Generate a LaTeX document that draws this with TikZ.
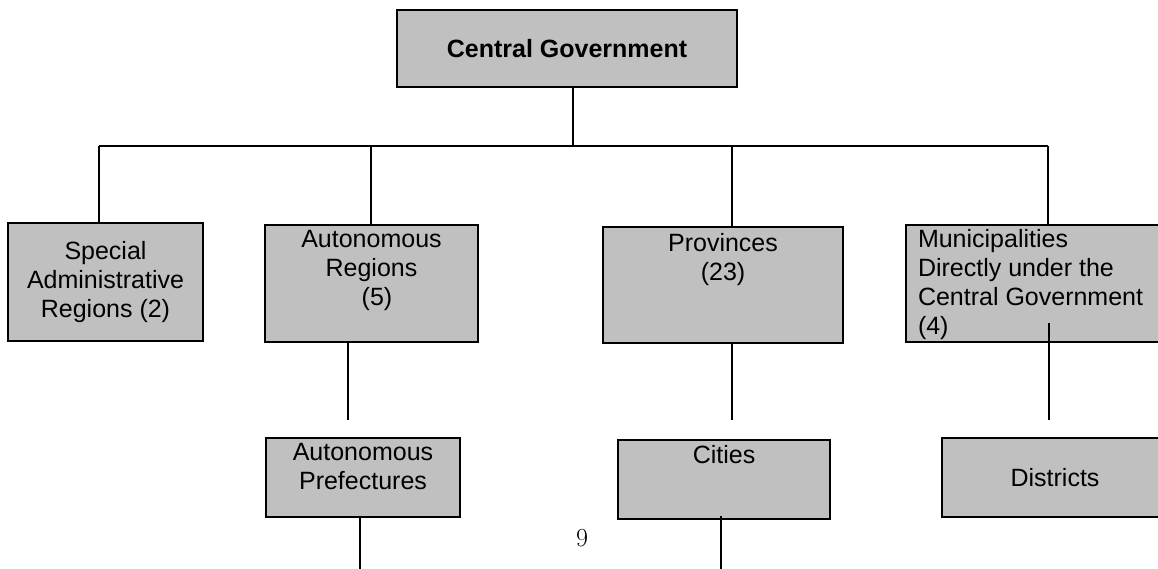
\documentclass[tikz,border=0pt]{standalone}
\usepackage{fontspec}
\setsansfont{Liberation Sans}
\usepackage{tikz}
\usetikzlibrary{positioning, calc}
\definecolor{boxgray}{RGB}{192,192,192}

\begin{document}
\begin{tikzpicture}[
    x=1pt, y=-1pt,
    block/.style={rectangle, draw, line width=2.4pt, fill=boxgray, inner sep=0pt, align=center, font=\sffamily\fontsize{25}{29}\selectfont},
    txt/.style={inner sep=0pt, align=center, font=\sffamily\fontsize{25}{29}\selectfont},
    link/.style={line width=1.9pt}
]
    \useasboundingbox (0,0) rectangle (1158,569);
    \clip (0,0) rectangle (1158,569);

    \node[block, minimum width=340pt, minimum height=77pt, font=\sffamily\bfseries\fontsize{25}{29}\selectfont] (cg) at (567,48.5) {Central Government};

    \node[block, minimum width=195pt, minimum height=118pt] (sar) at (105.5,282) {Special\\Administrative\\Regions (2)};
    \node[block, minimum width=213pt, minimum height=117pt] (ar) at (371.5,283.5) {};
    \node[block, minimum width=240pt, minimum height=116pt] (prov) at (723,285) {};
    \node[block, minimum width=262pt, minimum height=117pt] (mun) at (1037,283.5) {};

    \node[block, minimum width=194pt, minimum height=79pt] (pref) at (363,477.5) {};
    \node[block, minimum width=212pt, minimum height=79pt] (city) at (724,479.5) {};
    \node[block, minimum width=226pt, minimum height=79pt] (dist) at (1055,477.5) {Districts};

    % texts sitting at the top of their boxes
    \node[txt, anchor=north] (artxt) at ([yshift=-6pt]ar.north) {Autonomous\\Regions\\\hspace*{11pt}(5)};
    \node[txt, anchor=north] (provtxt) at ([yshift=-7pt]prov.north) {Provinces\\(23)};
    \node[txt, anchor=north west, align=left] (muntxt) at ([xshift=13pt,yshift=-5pt]mun.north west) {Municipalities\\Directly under the\\Central Government\\(4)};
    \node[txt, anchor=north] (preftxt) at ([yshift=-6pt]pref.north) {Autonomous\\Prefectures};
    \node[txt, anchor=north] (citytxt) at ([yshift=-6pt]city.north) {Cities};

    \node[font=\rmfamily\fontsize{26}{30}\selectfont, anchor=base, inner sep=0pt] (pagenum) at (582,546) {9};

    % top level bus
    \coordinate (bus) at (573,146);
    \coordinate (dsar) at (99,146);
    \coordinate (dar) at (371,146);
    \coordinate (dprov) at (732,146);
    \coordinate (dmun) at (1048,146);
    \draw[link] (cg.south -| bus) -- (bus);
    \draw[link] (dsar) -- (dmun);
    \draw[link] (dsar) -- (dsar |- sar.north);
    \draw[link] (dar) -- (dar |- ar.north);
    \draw[link] (dprov) -- (dprov |- prov.north);
    \draw[link] (dmun) -- (dmun |- mun.north);

    % lines below the boxes
    \coordinate (arend) at (348,420);
    \coordinate (provend) at (732,420);
    \coordinate (munend) at (1049,420);
    \coordinate (prefend) at (360,569);
    \coordinate (cityend) at (721,569);
    \draw[link] (arend |- ar.south) -- (arend);
    \draw[link] (provend |- prov.south) -- (provend);
    \draw[link] ($(munend |- mun.south)+(0,-20)$) -- (munend);
    \draw[link] (prefend |- pref.south) -- (prefend);
    \draw[link] ($(cityend |- city.south)+(0,-4)$) -- (cityend);
\end{tikzpicture}
\end{document}
